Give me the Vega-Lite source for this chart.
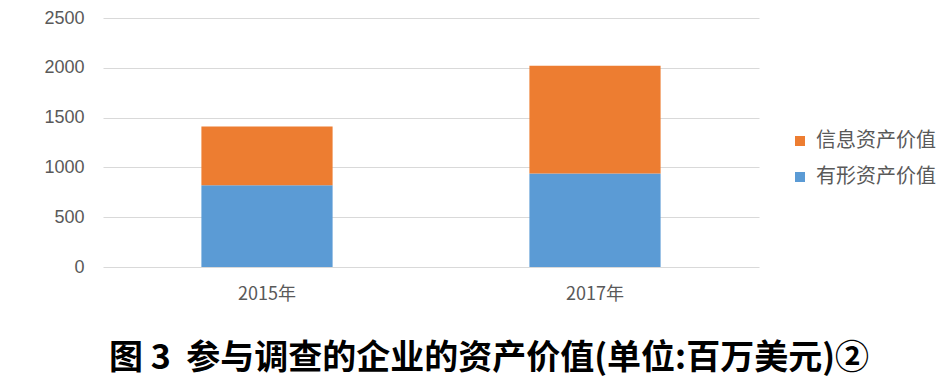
{
  "$schema": "https://vega.github.io/schema/vega-lite/v6.json",
  "width": 656,
  "height": 249,
  "autosize": {"type": "none"},
  "padding": {"left": 103, "top": 18, "right": 187, "bottom": 114},
  "background": "white",
  "data": {
    "values": [
      {"年份": "2015年", "类型": "有形资产价值", "价值": 820},
      {"年份": "2015年", "类型": "信息资产价值", "价值": 590},
      {"年份": "2017年", "类型": "有形资产价值", "价值": 940},
      {"年份": "2017年", "类型": "信息资产价值", "价值": 1080}
    ]
  },
  "title": {
    "text": "图 3\u00a0\u00a0参与调查的企业的资产价值(单位:百万美元)②",
    "orient": "bottom",
    "anchor": "middle",
    "font": "Noto Sans CJK SC",
    "fontWeight": "bold",
    "fontSize": 34,
    "color": "#000000",
    "offset": 39,
    "dx": 58
  },
  "mark": {"type": "bar"},
  "encoding": {
    "x": {
      "field": "年份",
      "type": "nominal",
      "scale": {"paddingInner": 0.6, "paddingOuter": 0.3},
      "axis": {
        "title": null,
        "labelAngle": 0,
        "ticks": false,
        "domain": false,
        "labelFont": "Noto Sans CJK SC",
        "labelFontSize": 18,
        "labelColor": "#595959",
        "labelPadding": 18
      }
    },
    "y": {
      "field": "价值",
      "type": "quantitative",
      "stack": "zero",
      "scale": {"domain": [0, 2500]},
      "axis": {
        "title": null,
        "values": [0, 500, 1000, 1500, 2000, 2500],
        "format": "d",
        "ticks": false,
        "domain": false,
        "gridColor": "#D9D9D9",
        "gridWidth": 1,
        "labelFont": "Liberation Sans",
        "labelFontSize": 18,
        "labelColor": "#595959",
        "labelPadding": 19
      }
    },
    "color": {
      "field": "类型",
      "type": "nominal",
      "scale": {
        "domain": ["信息资产价值", "有形资产价值"],
        "range": ["#ED7D31", "#5B9BD5"]
      },
      "legend": {
        "title": null,
        "orient": "none",
        "legendX": 687,
        "legendY": 113,
        "symbolType": "square",
        "symbolSize": 100,
        "symbolStrokeWidth": 0,
        "labelFont": "Noto Sans CJK SC",
        "labelFontSize": 20,
        "labelColor": "#595959",
        "labelOffset": 6,
        "rowPadding": 16
      }
    },
    "order": {"field": "类型", "sort": "descending"}
  },
  "config": {"view": {"stroke": null}}
}
